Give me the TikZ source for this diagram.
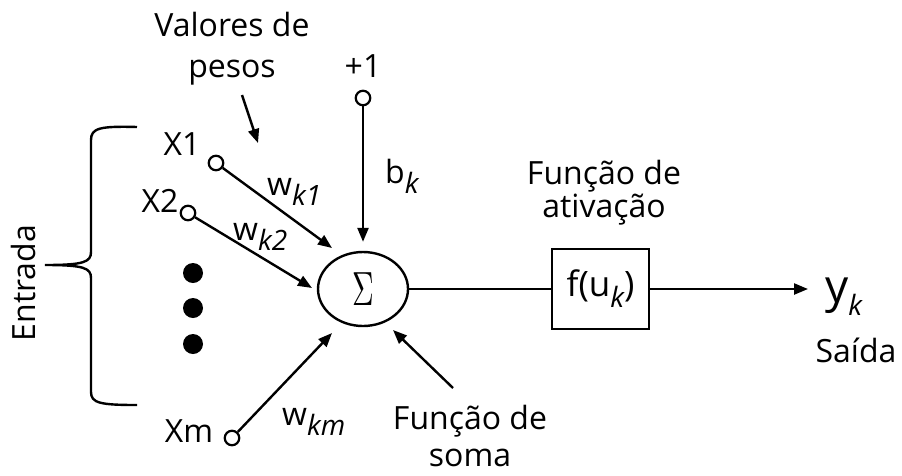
\documentclass[tikz,border=0pt]{standalone}
\usepackage{fontspec}
\setmainfont{Open Sans}
\usetikzlibrary{arrows.meta,shapes.geometric}

% italic subscript, lowered below the baseline
\newcommand{\lowsub}[2][10pt]{\raisebox{-#1}{\fontsize{28}{28}\selectfont\itshape #2}}

\begin{document}
\begin{tikzpicture}[x=1pt,y=-1pt,
  every node/.style={font=\fontsize{32}{38}\selectfont, inner sep=0pt},
  wire/.style={line width=2.4pt},
  arr/.style={wire,-{Triangle[length=14pt,width=11pt]}},
  port/.style={circle,draw,line width=2.2pt,minimum size=14.5pt,inner sep=0pt},
  bigdot/.style={circle,fill,minimum size=20pt,inner sep=0pt},
  stage/.style={draw,line width=2.4pt},
]
\useasboundingbox (0,0) rectangle (902,475);

% summing junction and activation block
\node[stage,ellipse,minimum width=90pt,minimum height=74pt,font=\normalsize] (sum) at (363,289)
  {\scalebox{3.0}[4.8]{$\Sigma$}};
\node[stage,minimum width=97pt,minimum height=80pt,font=\fontsize{35}{40}\selectfont] (fbox) at (600.5,289)
  {f(u\lowsub[11pt]{k})};

% input terminals
\node[port] (x1) at (216,163) {};
\node[port] (x2) at (188,213) {};
\node[port] (xm) at (232,438) {};
\node[port] (p1) at (363,98) {};

\node[anchor=base] (x1t) at (182,155) {X1};
\node[anchor=base] (x2t) at (160,212) {X2};
\node[anchor=base] (xmt) at (189,442) {Xm};
\node[anchor=base] (p1t) at (363,77) {+1};

\node[bigdot] (d1) at (193,273) {};
\node[bigdot] (d2) at (193,308) {};
\node[bigdot] (d3) at (193,344) {};

% weight and bias labels
\node[anchor=base west] (wk1) at (267,195) {w\lowsub{k1}};
\node[anchor=base west] (wk2) at (233,240) {w\lowsub{k2}};
\node[anchor=base west] (wkm) at (282,425) {w\lowsub{km}};
\node[anchor=base west] (bk) at (385,183) {b\lowsub{k}};

% captions
\node[align=center,font=\fontsize{32}{41}\selectfont] (pesos) at (232,49) {Valores de\\pesos};
\node[align=center,font=\fontsize{32}{33}\selectfont] (ativ) at (604,193) {Função de\\ativação};
\node[align=center,font=\fontsize{32}{37}\selectfont] (soma) at (470,436) {Função de\\soma};
\node[rotate=90] (entrada) at (23,283) {Entrada};
\node[anchor=base west] (yk) at (825,302) {\fontsize{46}{46}\selectfont y\lowsub[13pt]{k}};
\node[anchor=base] (saida) at (856,362) {Saída};

% arrow end points
\coordinate (pa) at (242,95);
\coordinate (pb) at (258,143);
\coordinate (t1) at (332,248);
\coordinate (t2) at (312,288);
\coordinate (tm) at (332,333);
\coordinate (sa) at (453,388);
\coordinate (ts) at (393,330);
\coordinate (out) at (808,289);

% connectors
\draw[arr] (pa) -- (pb);
\draw[arr] (p1) -- (sum.north) [shorten >=9pt];
\draw[arr] (x1) -- (t1);
\draw[arr] (x2) -- (t2);
\draw[arr] (xm) -- (tm);
\draw[arr] (sa) -- (ts);
\draw[wire] (sum) -- (fbox);
\draw[arr] (fbox) -- (out);

% input brace
\draw[wire] (137,127) .. controls (100,126) and (91,128) .. (91,140) -- (91,252)
  .. controls (91,262) and (84,265) .. (45,265)
  .. controls (84,265) and (91,268) .. (91,278) -- (91,392)
  .. controls (91,403) and (100,405) .. (137,405);
\end{tikzpicture}
\end{document}
